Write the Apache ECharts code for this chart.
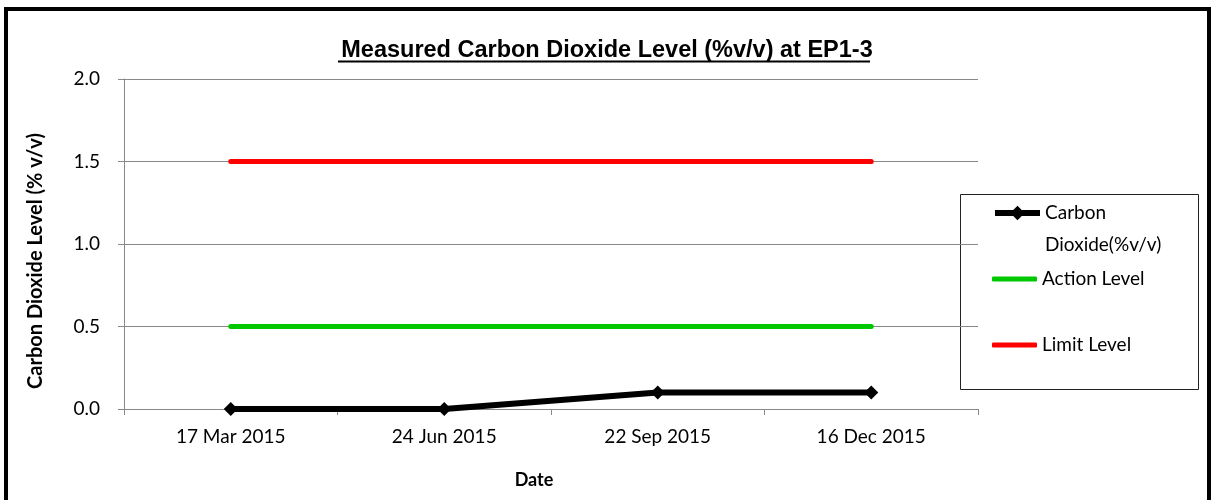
<!DOCTYPE html>
<html>
<head>
<meta charset="utf-8">
<script src="https://cdn.jsdelivr.net/npm/echarts@6/dist/echarts.min.js"></script>
<style>
  html, body { margin: 0; padding: 0; background: #fff; overflow: hidden; }
  #frame {
    position: absolute; left: 4px; top: 7px; width: 1207px; height: 520px;
    border: 4px solid #000; box-sizing: border-box; pointer-events: none; z-index: 2;
  }
  #chart { position: absolute; left: 0; top: 0; width: 1214px; height: 500px; }
</style>
</head>
<body>
<div id="frame"></div>
<div id="chart"></div>
<script>
// data
const dates = ['17 Mar 2015', '24 Jun 2015', '22 Sep 2015', '16 Dec 2015'];
const co2Values = [0.0, 0.0, 0.1, 0.1];
const actionLevel = [0.5, 0.5, 0.5, 0.5];
const limitLevel = [1.5, 1.5, 1.5, 1.5];

const axisGray = '#898989';
const labelFont = 'Lato, "Open Sans", sans-serif';

const chart = echarts.init(document.getElementById('chart'), null, { renderer: 'canvas' });

const legendBase = {
  orient: 'vertical',
  left: 992,
  padding: 0,
  itemWidth: 45,
  textStyle: { color: '#000', fontFamily: labelFont, fontSize: 19, lineHeight: 32 },
};

chart.setOption({
  animation: false,
  title: {
    text: 'Measured Carbon Dioxide Level (%v/v) at EP1-3',
    left: 'center',
    top: 34,
    textStyle: {
      fontFamily: '"Liberation Sans", Arial, sans-serif',
      fontWeight: 'bold',
      fontSize: 23.5,
      color: '#000',
    },
  },
  grid: {
    left: 124,
    right: 236,
    top: 79,
    bottom: 91,
  },
  legend: [
    // blank first line so the icon sits beside "Carbon"
    Object.assign({}, legendBase, {
      top: 165,
      itemHeight: 18,
      lineStyle: { width: 6 },
      data: ['Carbon Dioxide(%v/v)'],
      formatter: () => ' \nCarbon\nDioxide(%v/v)',
    }),
    Object.assign({}, legendBase, {
      top: 263, itemHeight: 5, icon: 'roundRect', data: ['Action Level'],
    }),
    Object.assign({}, legendBase, {
      top: 329, itemHeight: 5, icon: 'roundRect', data: ['Limit Level'],
    }),
  ],
  xAxis: {
    type: 'category',
    data: dates,
    boundaryGap: true,
    name: 'Date',
    nameLocation: 'middle',
    nameGap: 62,
    nameTextStyle: {
      fontFamily: labelFont, fontWeight: 'bold', fontSize: 18, color: '#000',
      padding: [0, 34, 0, 0],
    },
    axisLine: { lineStyle: { color: axisGray, width: 1 } },
    axisTick: { show: true, length: 6, lineStyle: { color: axisGray } },
    axisLabel: { color: '#000', fontFamily: labelFont, fontSize: 19, margin: 18 },
  },
  yAxis: {
    type: 'value',
    min: 0,
    max: 2,
    interval: 0.5,
    name: 'Carbon Dioxide Level (% v/v)',
    nameLocation: 'middle',
    nameGap: 78,
    nameTextStyle: {
      fontFamily: labelFont, fontWeight: 'bold', fontSize: 20, color: '#000',
      padding: [0, 34, 0, 0],
    },
    axisLine: { show: true, lineStyle: { color: axisGray, width: 1 } },
    axisTick: { show: true, length: 6, lineStyle: { color: axisGray } },
    axisLabel: {
      color: '#000', fontFamily: labelFont, fontSize: 19, margin: 24,
      formatter: (v) => v.toFixed(1),
    },
    splitLine: { lineStyle: { color: axisGray, width: 1 } },
  },
  series: [
    {
      name: 'Carbon Dioxide(%v/v)',
      type: 'line',
      data: co2Values,
      symbol: 'diamond',
      symbolSize: 14,
      lineStyle: { color: '#000', width: 6 },
      itemStyle: { color: '#000' },
      z: 5,
    },
    {
      name: 'Action Level',
      type: 'line',
      data: actionLevel,
      symbol: 'none',
      lineStyle: { color: '#00c800', width: 5, cap: 'round' },
      itemStyle: { color: '#00c800' },
    },
    {
      name: 'Limit Level',
      type: 'line',
      data: limitLevel,
      symbol: 'none',
      lineStyle: { color: '#ff0000', width: 5, cap: 'round' },
      itemStyle: { color: '#ff0000' },
    },
  ],
  graphic: [
    // title underline
    {
      type: 'line',
      shape: { x1: 338, y1: 61.5, x2: 870, y2: 61.5 },
      style: { stroke: '#000', lineWidth: 2 },
    },
    // legend box
    {
      type: 'rect',
      shape: { x: 960.5, y: 194.5, width: 238, height: 195 },
      style: { fill: 'none', stroke: '#222', lineWidth: 1 },
      z: -1,
    },
  ],
});
</script>
</body>
</html>
